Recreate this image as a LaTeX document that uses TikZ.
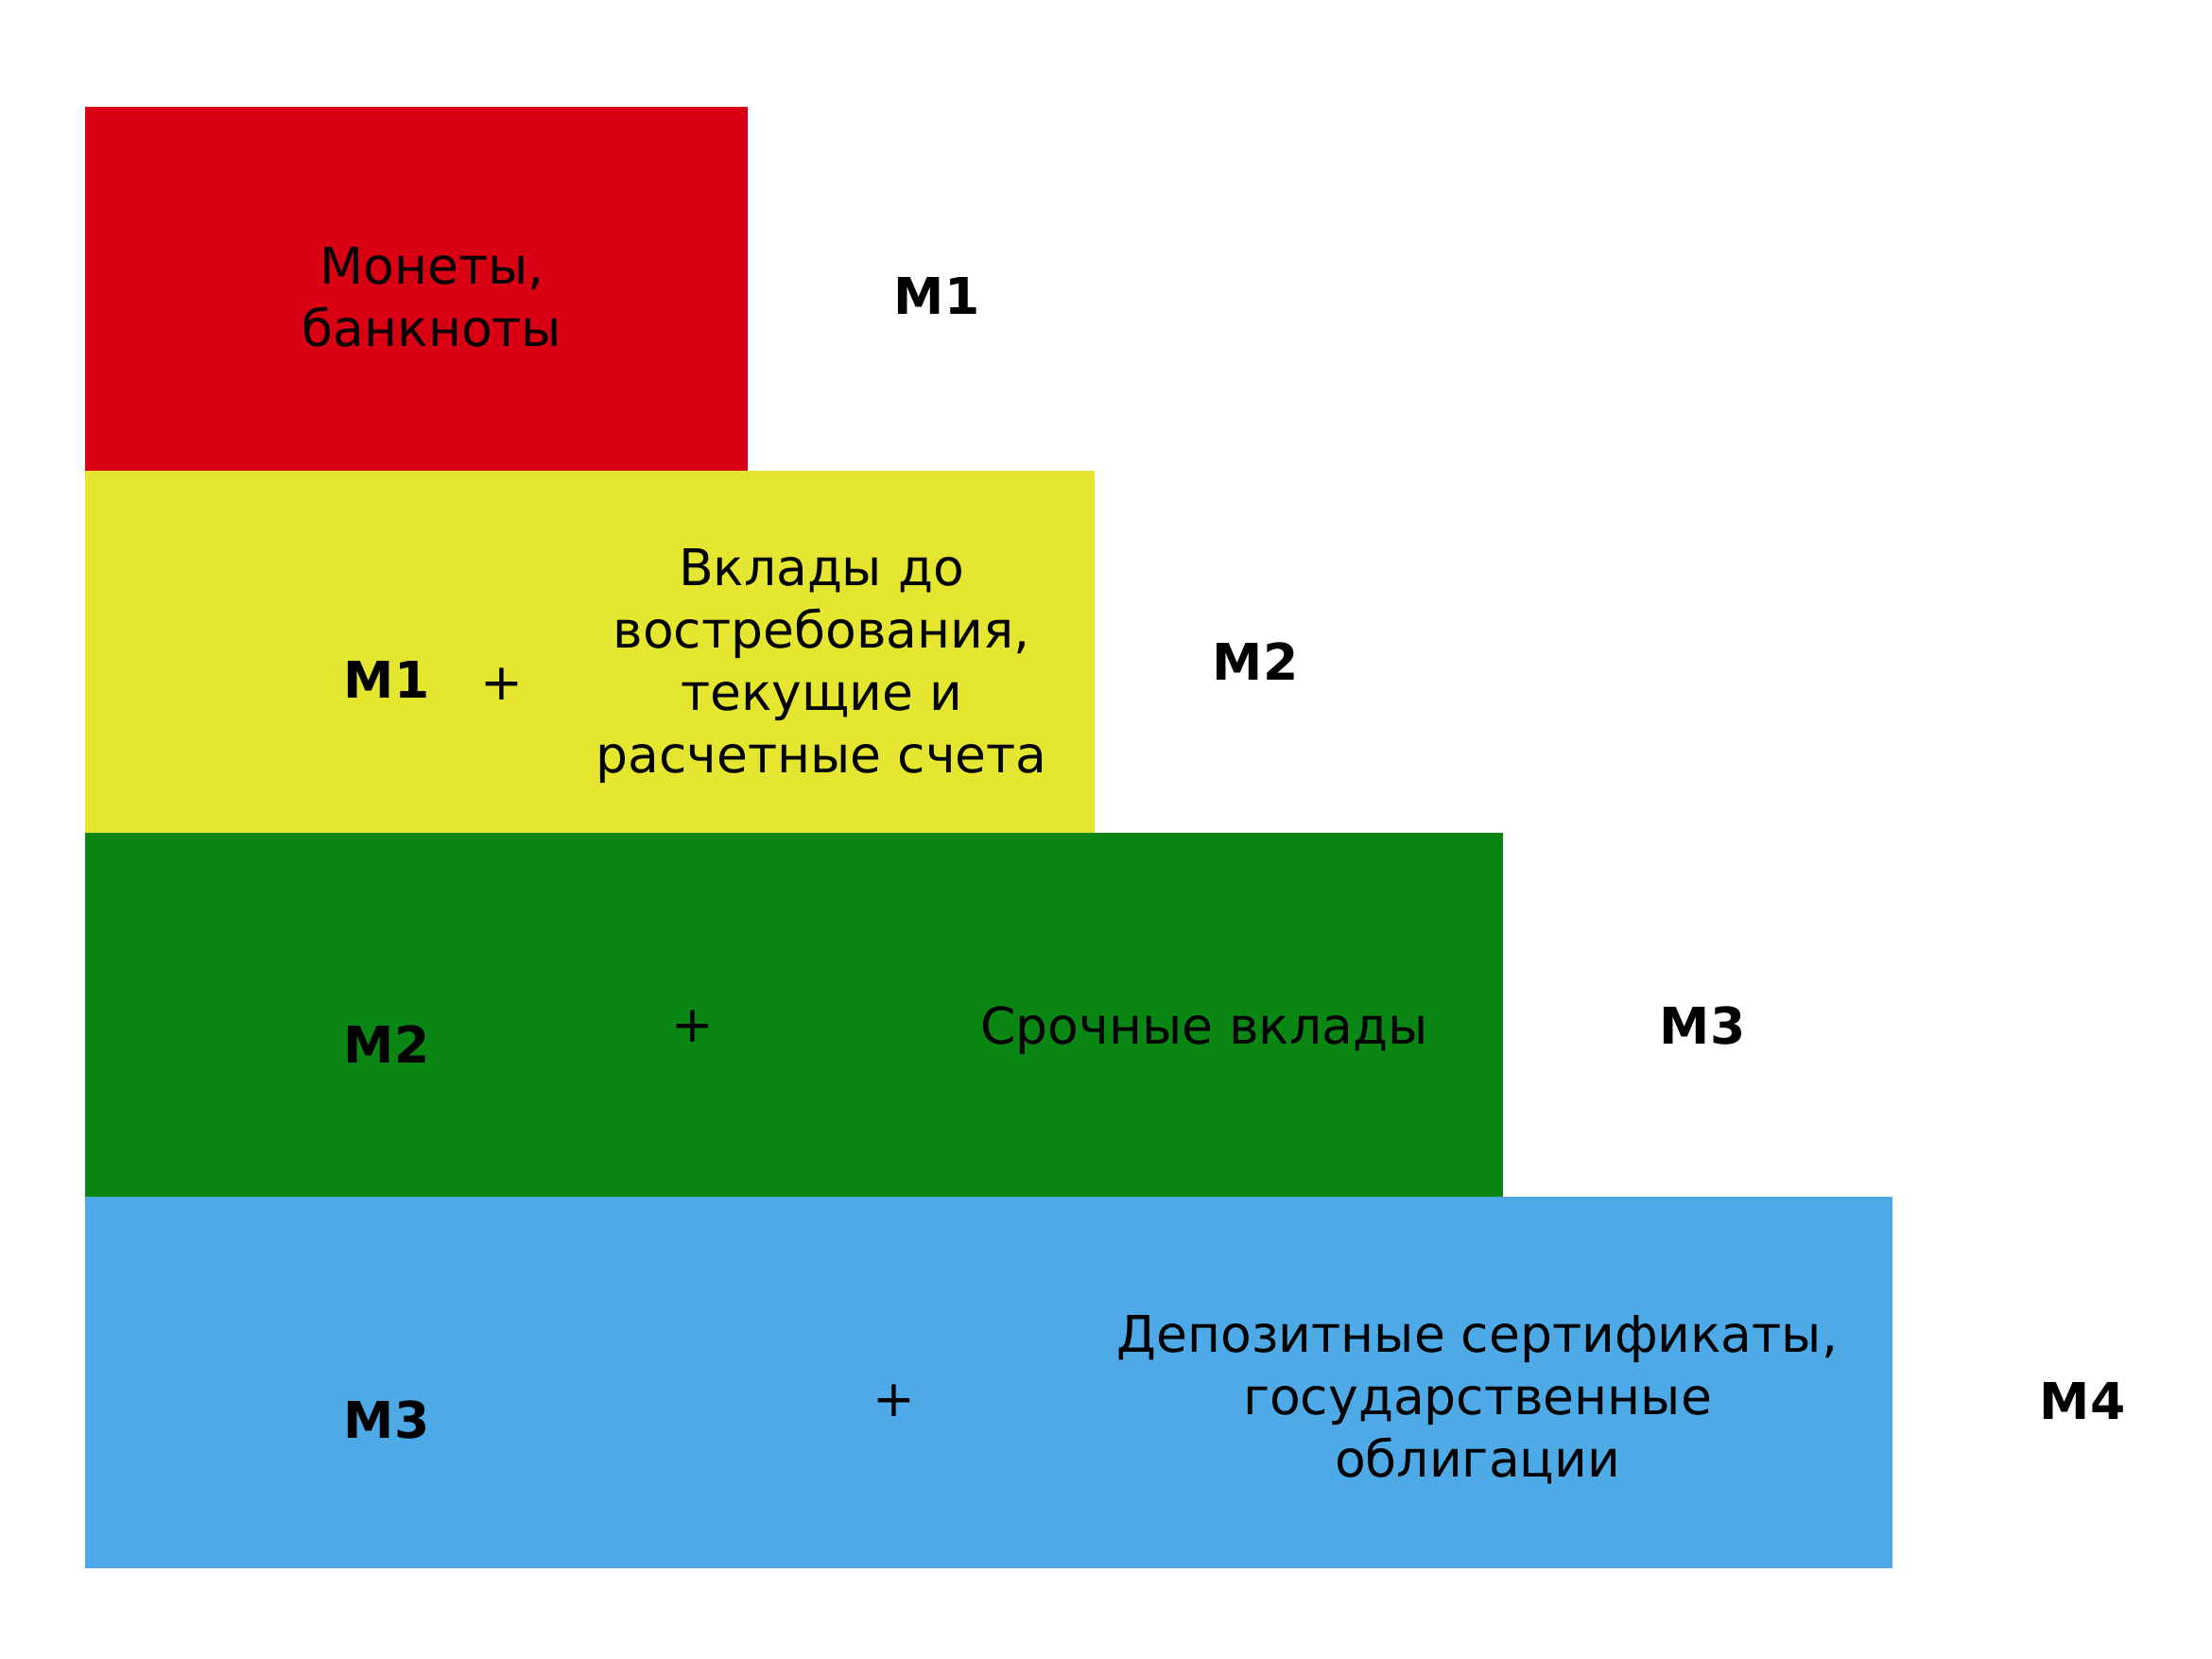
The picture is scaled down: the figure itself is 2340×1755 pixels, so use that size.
\documentclass[tikz,border=0pt]{standalone}
\usepackage{fontspec}
\setmainfont{DejaVu Sans}
\definecolor{cred}{RGB}{216,0,18}
\definecolor{cyellow}{RGB}{229,230,47}
\definecolor{cgreen}{RGB}{10,134,21}
\definecolor{cblue}{RGB}{77,170,230}
\tikzset{
  txt/.style={anchor=base, inner sep=0pt, align=center, font=\fontsize{26.75}{33}\selectfont},
  lbl/.style={anchor=base, inner sep=0pt, font=\fontsize{26.75}{33}\selectfont\bfseries},
}
\begin{document}
\begin{tikzpicture}[x=0.5pt,y=-0.5pt]
\useasboundingbox (0,0) rectangle (2340,1755);
\fill[white] (0,0) rectangle (2340,1755);
% bands
\fill[cred]    (90,113)  rectangle (791,498);
\fill[cyellow] (90,498)  rectangle (1158,881);
\fill[cgreen]  (90,881)  rectangle (1590,1266);
\fill[cblue]   (90,1266) rectangle (2002,1659);
% row 1 (base anchor = last line baseline)
\node[txt] (t1) at (457,366) {Монеты,\\банкноты};
\node[lbl] (m1) at (991,333) {M1};
% row 2
\node[lbl] (a2) at (409,738) {M1};
\node[txt] (p2) at (531,740) {+};
\node[txt] (t2) at (869,817) {Вклады до\\востребования,\\текущие и\\расчетные счета};
\node[lbl] (m2) at (1328,719) {M2};
% row 3
\node[lbl] (a3) at (409,1124) {M2};
\node[txt] (p3) at (733,1102) {+};
\node[txt] (t3) at (1274,1104) {Срочные вклады};
\node[lbl] (m3) at (1801,1104) {M3};
% row 4
\node[lbl] (a4) at (409,1521) {M3};
\node[txt] (p4) at (946,1498) {+};
\node[txt] (t4) at (1563,1562) {Депозитные сертификаты,\\государственные\\облигации};
\node[lbl] (m4) at (2203,1501) {M4};
\end{tikzpicture}
\end{document}
